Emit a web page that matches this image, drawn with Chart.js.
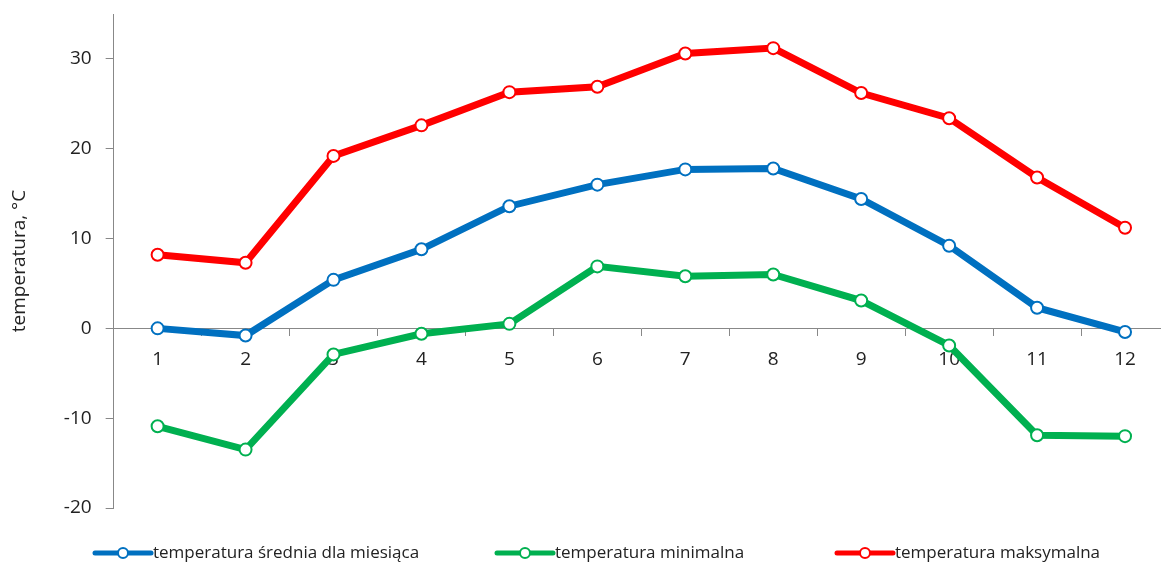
<!DOCTYPE html>
<html>
<head>
<meta charset="utf-8">
<script src="https://cdn.jsdelivr.net/npm/chart.js@4"></script>
<style>
  html, body { margin: 0; padding: 0; background: #fff; overflow: hidden; }
  #wrap { width: 1177px; height: 564px; }
</style>
</head>
<body>
<div id="wrap"><canvas id="wykres"></canvas></div>
<script>
// dane
const miesiace = ['1', '2', '3', '4', '5', '6', '7', '8', '9', '10', '11', '12'];
const tempSrednia = [0.0, -0.8, 5.4, 8.8, 13.6, 16.0, 17.7, 17.8, 14.4, 9.2, 2.3, -0.4];
const tempMin = [-10.9, -13.5, -2.9, -0.6, 0.5, 6.9, 5.8, 6.0, 3.1, -1.9, -11.9, -12.0];
const tempMax = [8.2, 7.3, 19.2, 22.6, 26.3, 26.9, 30.6, 31.2, 26.2, 23.4, 16.8, 11.2];
const ticksY = [-20, -10, 0, 10, 20, 30];

const FONT = '"Open Sans", "Noto Sans", sans-serif';

// legenda rysowana ręcznie (linia z kółkiem jak w Excelu)
const legenda = {
    id: 'legenda',
    afterDraw(chart) {
        const ctx = chart.ctx;
        const pozycje = [93, 495, 835], dlLinii = 60, y = 553;
        ctx.save();
        ctx.font = '17px ' + FONT;
        ctx.textBaseline = 'middle';
        chart.data.datasets.forEach((ds, i) => {
            const x = pozycje[i];
            ctx.strokeStyle = ds.borderColor;
            ctx.lineWidth = 5;
            ctx.lineCap = 'round';
            ctx.beginPath();
            ctx.moveTo(x + 2, y);
            ctx.lineTo(x + dlLinii - 2, y);
            ctx.stroke();
            ctx.beginPath();
            ctx.arc(x + dlLinii / 2, y, 5, 0, Math.PI * 2);
            ctx.fillStyle = '#fff';
            ctx.fill();
            ctx.lineWidth = 2;
            ctx.stroke();
            ctx.fillStyle = '#222';
            ctx.fillText(ds.label, x + dlLinii, y);
        });
        ctx.restore();
    }
};

function seria(label, dane, kolor) {
    return {
        label: label,
        data: dane,
        borderColor: kolor,
        backgroundColor: kolor,
        borderWidth: 7,
        tension: 0,
        pointRadius: 6,
        pointBorderWidth: 2,
        pointBackgroundColor: '#fff',
        pointBorderColor: kolor
    };
}

new Chart(document.getElementById('wykres'), {
    type: 'line',
    data: {
        labels: miesiace,
        datasets: [
            seria('temperatura średnia dla miesiąca', tempSrednia, '#0070C0'),
            seria('temperatura minimalna', tempMin, '#00B050'),
            seria('temperatura maksymalna', tempMax, '#FF0000')
        ]
    },
    options: {
        responsive: true,
        maintainAspectRatio: false,
        animation: false,
        layout: { padding: { left: 8, right: 0, top: 14, bottom: 56 } },
        plugins: {
            legend: { display: false },
            tooltip: { enabled: false }
        },
        scales: {
            x: {
                position: { y: 0 },
                offset: true,
                grid: { offset: true, drawOnChartArea: false, tickLength: 7, color: '#888' },
                border: { color: '#888', width: 1 },
                ticks: { color: '#222', font: { family: FONT, size: 19 }, padding: 13, maxRotation: 0 },
                afterFit: s => { s.paddingLeft = 0; s.paddingRight = 0; }
            },
            y: {
                min: -20,
                max: 35,
                afterBuildTicks: s => { s.ticks = ticksY.map(v => ({ value: v })); },
                afterFit: s => { s.paddingTop = 0; s.paddingBottom = 0; },
                grid: { drawOnChartArea: false, tickLength: 8, color: '#888' },
                border: { color: '#888', width: 1 },
                ticks: { color: '#222', font: { family: FONT, size: 19 }, padding: 14 },
                title: {
                    display: true,
                    text: 'temperatura, °C',
                    color: '#222',
                    font: { family: FONT, size: 19 },
                    padding: { top: 0, bottom: 19 }
                }
            }
        }
    },
    plugins: [legenda]
});
</script>
</body>
</html>
